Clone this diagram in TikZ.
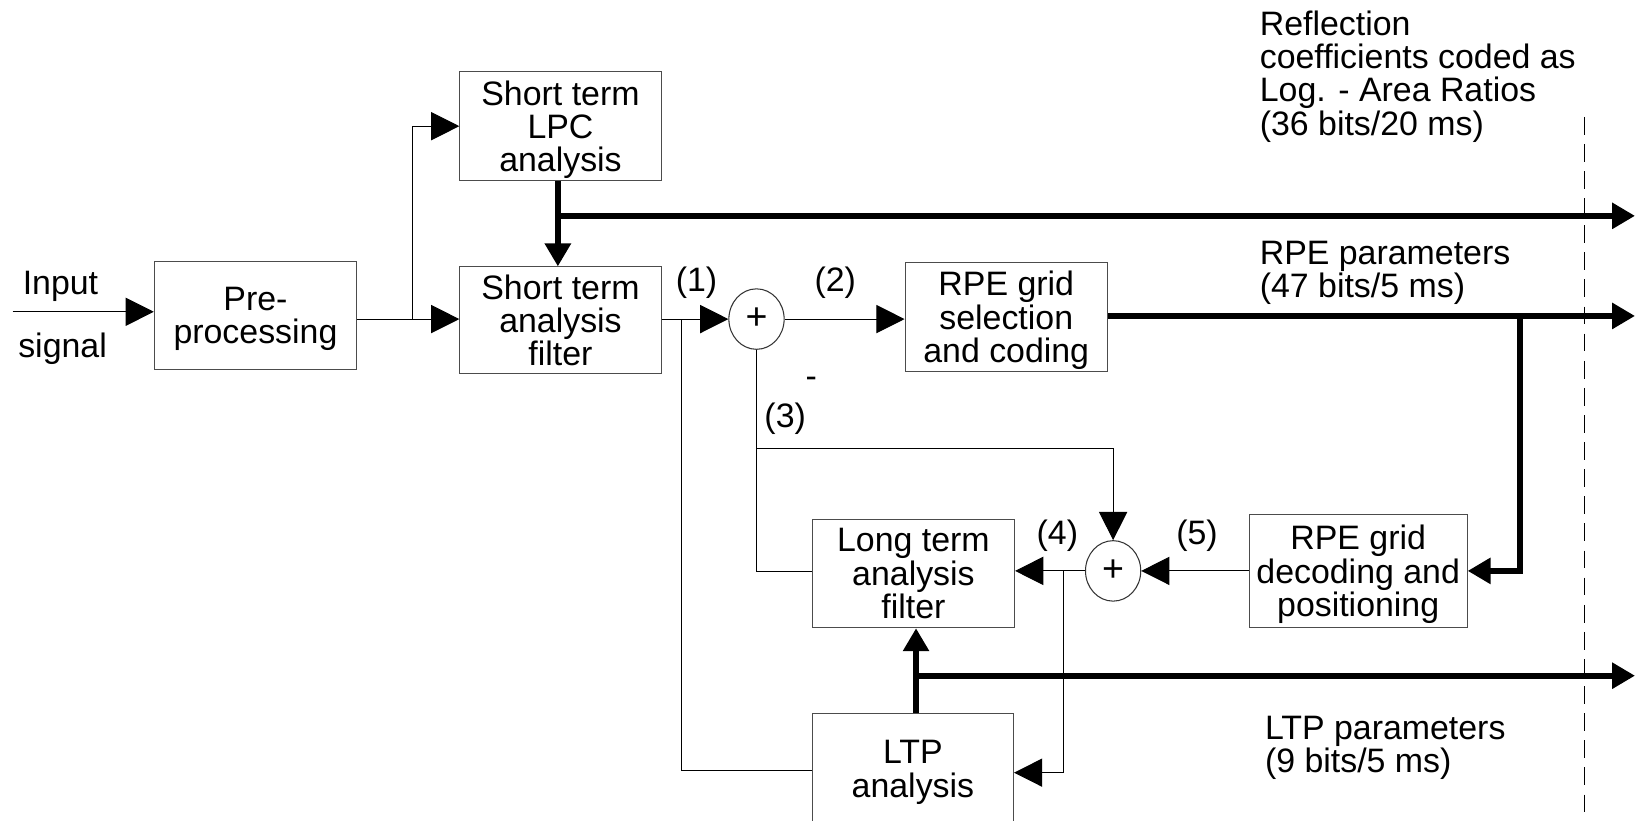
\documentclass[tikz,border=0pt]{standalone}
\usepackage{fontspec}
\setmainfont{Liberation Sans}
\usetikzlibrary{arrows.meta,shapes.geometric}
\newcommand\dtxt{\fontsize{32.5}{32}\selectfont}
\tikzset{
  box/.style={draw=black!70, line width=1pt, align=center, inner sep=0pt, font=\dtxt, text depth=0pt},
  wire/.style={draw=black, line width=1pt},
  bus/.style={draw=black, line width=5.5pt},
  arr/.style={-{Triangle[length=27pt,width=27pt]}},
  barr/.style={-{Triangle[length=22pt,width=24pt]}},
  sumnode/.style={draw=black!80, line width=1pt, ellipse, minimum width=53pt, minimum height=58pt, inner sep=0pt, font=\fontsize{36}{36}\selectfont},
  lbl/.style={font=\dtxt, inner sep=0pt, align=left, text depth=0pt},
}
\begin{document}
\begin{tikzpicture}[x=1pt,y=-1pt]
\path[use as bounding box] (0,0) rectangle (1568,787);

% boxes
\node[box, minimum width=194pt, minimum height=103pt] (pre) at (245,302.5) {Pre-\\processing};
\node[box, minimum width=193pt, minimum height=104pt] (lpc) at (537.5,121) {Short term\\LPC\\analysis};
\node[box, minimum width=193pt, minimum height=102pt] (staf) at (537.5,307) {Short term\\analysis\\filter};
\node[sumnode] (sum1) at (725.5,306) {+};
\node[box, minimum width=194pt, minimum height=104pt] (rpesel) at (965,304) {RPE grid\\selection\\and coding};
\node[box, minimum width=194pt, minimum height=104pt] (ltaf) at (876,550) {Long term\\analysis\\filter};
\node[sumnode] (sum2) at (1067.5,547.5) {+};
\node[box, minimum width=209pt, minimum height=109pt] (rpedec) at (1302.5,547.5) {RPE grid\\decoding and\\positioning};
\node[box, minimum width=193pt, minimum height=106pt] (ltp) at (875.5,737.5) {LTP\\analysis};

% labels
\node[lbl] (linput) at (58,271) {Input};
\node[lbl] (lsignal) at (60,331) {signal};
\node[lbl] (l1) at (668,268) {(1)};
\node[lbl] (l2) at (801,268) {(2)};
\node[lbl] (lminus) at (778,367) {-};
\node[lbl] (l3) at (753,398) {(3)};
\node[lbl] (l4) at (1014,510) {(4)};
\node[lbl] (l5) at (1148,510) {(5)};
\node[lbl, anchor=west] (lrefl) at (1208,70) {Reflection\\coefficients coded as\\Log. - Area Ratios\\(36 bits/20 ms)};
\node[lbl, anchor=west] (lrpe) at (1208,258) {RPE parameters\\(47 bits/5 ms)};
\node[lbl, anchor=west] (lltp) at (1213,714) {LTP parameters\\(9 bits/5 ms)};

% coordinates
\coordinate (in) at (12,299);
\coordinate (j1) at (396,306);
\coordinate (j2) at (535,207);
\coordinate (o1) at (1568,207);
\coordinate (j3) at (654,306);
\coordinate (j4) at (654,739);
\coordinate (j5) at (1458,303);
\coordinate (o2) at (1568,303);
\coordinate (j6) at (725.5,430.5);
\coordinate (j7) at (725.5,548.5);
\coordinate (j8) at (1020,547.5);
\coordinate (j9) at (1020,741);
\coordinate (j10) at (878.5,648);
\coordinate (o3) at (1568,648);
\coordinate (d1) at (1519.5,112);
\coordinate (d2) at (1519.5,790);

% dashed boundary
\draw[line width=1pt, dash pattern=on 17pt off 9pt] (d1) -- (d2);

% thin connectors
\draw[wire,arr] (in) -- (in -| pre.west);
\draw[wire] (pre.east |- j1) -- (j1);
\draw[wire,arr] (j1) -- (j1 -| staf.west);
\draw[wire,arr] (j1) |- (lpc.west);
\draw[wire,arr] (staf.east |- sum1) -- (sum1.west);
\draw[wire] (j3) -- (j4) -- (j4 -| ltp.west);
\draw[wire,arr] (sum1.east) -- (sum1.east -| rpesel.west);
\draw[wire] (ltaf.west |- j7) -- (j7) -- (sum1.south);
\draw[wire,arr] (j6) -| (sum2.north);
\draw[wire,arr] (sum2.west) -- (sum2.west -| ltaf.east);
\draw[wire,arr] (j8) -- (j9) -- (j9 -| ltp.east);
\draw[wire,arr] (rpedec.west) -- (sum2.east);

% thick connectors
\draw[bus,barr] (lpc.south -| j2) -- (staf.north -| j2);
\draw[bus,barr] (j2) -- (o1);
\draw[bus,barr] (rpesel.east |- j5) -- (o2);
\draw[bus,barr] (j5) |- (rpedec.east);
\draw[bus,barr] (ltp.north -| j10) -- (ltaf.south -| j10);
\draw[bus,barr] (j10) -- (o3);
\end{tikzpicture}
\end{document}
